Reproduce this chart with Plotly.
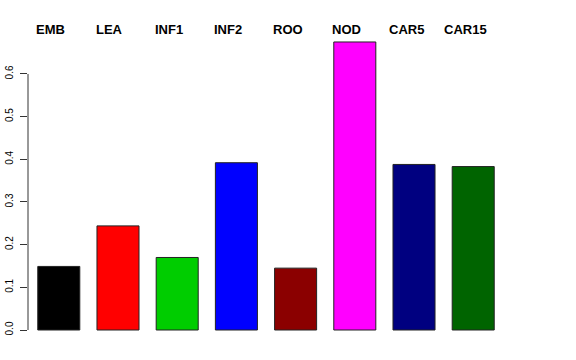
import plotly.graph_objects as go

categories = ["EMB", "LEA", "INF1", "INF2", "ROO", "NOD", "CAR5", "CAR15"]
values = [0.149, 0.244, 0.170, 0.392, 0.145, 0.675, 0.388, 0.383]
colors = ["#000000", "#FF0000", "#00CD00", "#0000FF", "#8B0000", "#FF00FF", "#000080", "#006400"]
y_ticks = [0.0, 0.1, 0.2, 0.3, 0.4, 0.5, 0.6]
y_tick_labels = ["0.0", "0.1", "0.2", "0.3", "0.4", "0.5", "0.6"]

xpos = list(range(len(categories)))

fig = go.Figure()
fig.add_trace(go.Bar(
    x=xpos, y=values, width=0.71,
    marker=dict(color=colors, line=dict(color="#222222", width=1)),
    hoverinfo="skip",
))

for i, c in enumerate(categories):
    fig.add_annotation(x=i, y=1.005, xref="x", yref="paper", text="<b>%s</b>" % c,
                       showarrow=False, xshift=-8, yanchor="middle",
                       font=dict(family="Liberation Sans, Arial, sans-serif", size=13, color="black"))

fig.add_shape(type="line", xref="paper", yref="y", x0=0, x1=0, y0=0, y1=0.6,
              line=dict(color="#333333", width=1))

fig.update_layout(
    width=576, height=360,
    margin=dict(l=28, r=72, t=31, b=18, pad=0),
    paper_bgcolor="white", plot_bgcolor="white",
    showlegend=False,
    font=dict(family="Liberation Sans, Arial, sans-serif", color="black"),
    xaxis=dict(range=[-0.52, 7.52], showticklabels=False, showgrid=False,
               zeroline=False, showline=False, ticks="", automargin=False),
    yaxis=dict(range=[-0.0281, 0.7007], tickvals=y_ticks, ticktext=y_tick_labels,
               tickangle=-90, ticks="outside", ticklen=7, tickcolor="#333333",
               tickwidth=1, showgrid=False, zeroline=False, showline=False,
               tickfont=dict(size=10, color="black"), ticklabelstandoff=3,
               automargin=False),
)

fig.write_html("out.html", config={"displayModeBar": False},
               post_script="document.body.style.margin='0';document.body.style.padding='0';")
